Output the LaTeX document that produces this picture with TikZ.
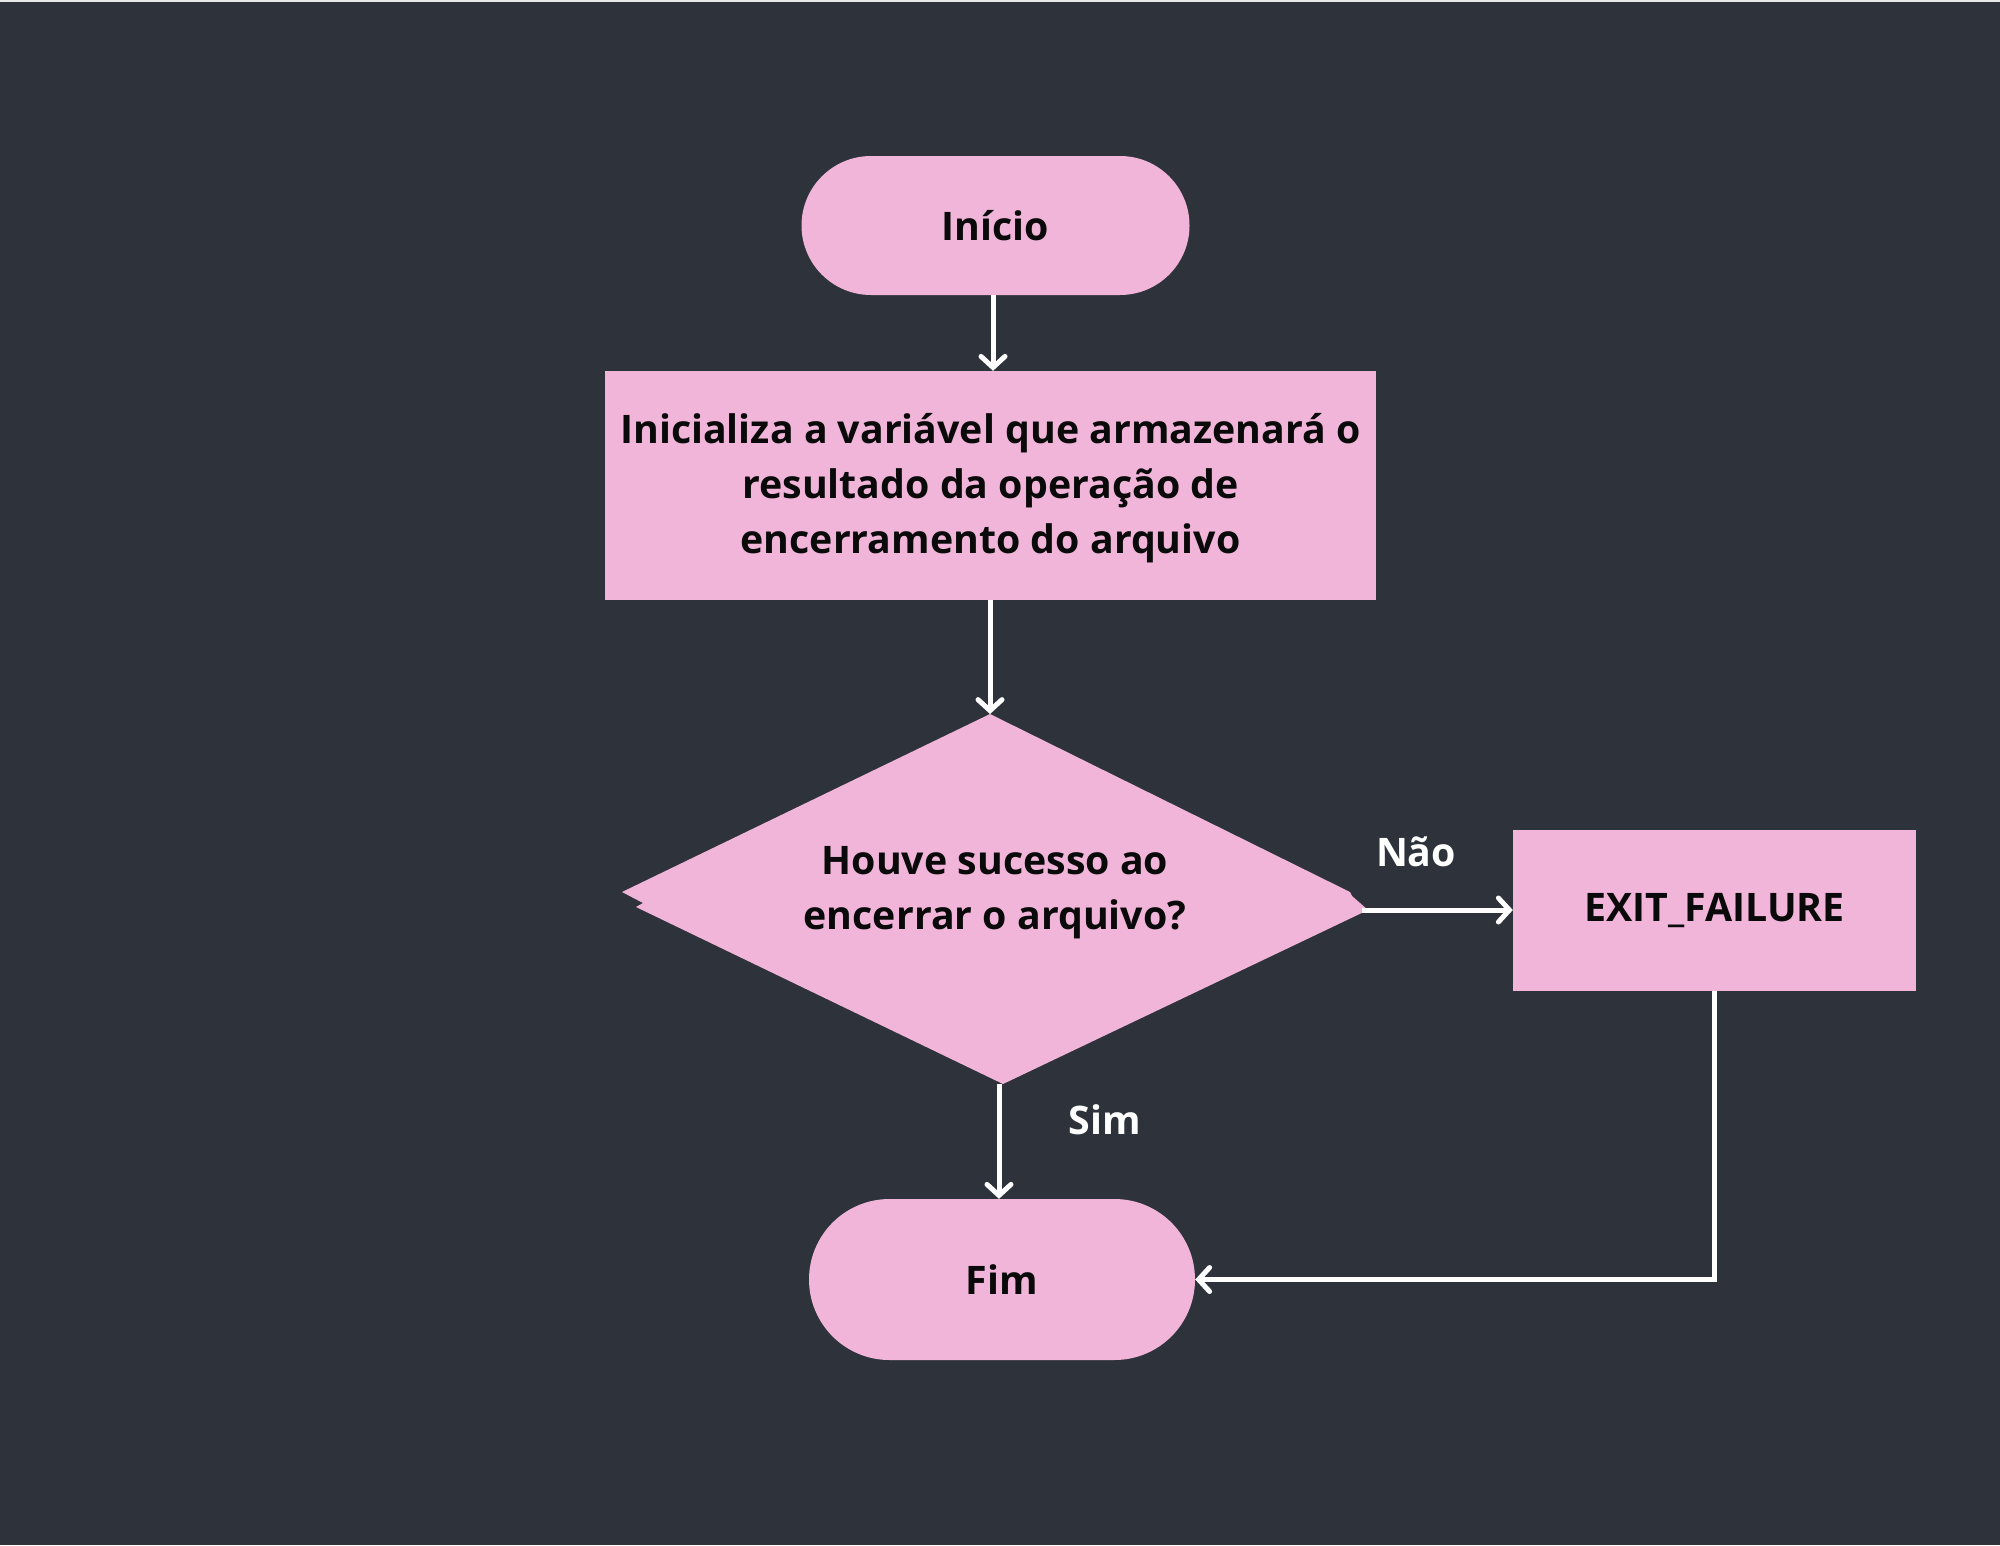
\documentclass[tikz,border=0pt]{standalone}
\usepackage{fontspec}
\setmainfont{Open Sans}[BoldFont={* Bold}]
\usetikzlibrary{arrows.meta,shapes.misc}
\definecolor{bg}{HTML}{2E323B}
\definecolor{pinkfill}{HTML}{F0B5D9}
\definecolor{txt}{HTML}{0A0A0A}
\tikzset{
  txtfont/.style={font=\fontsize{39.3}{55}\selectfont\bfseries},
  term/.style={rounded rectangle, fill=pinkfill, draw=none, txtfont, text=txt, inner sep=0pt},
  procbox/.style={rectangle, fill=pinkfill, draw=none, txtfont, text=txt, align=center, inner sep=0pt},
  lbl/.style={txtfont, text=white, inner sep=0pt},
  conn/.style={draw=white, line width=5pt, -{Straight Barb[length=11pt,width=24pt,line width=5pt,line cap=round]}},
}
\begin{document}
\begin{tikzpicture}[x=1pt,y=-1pt]
\useasboundingbox (0,0) rectangle (2000,1545);
\fill[bg] (0,0) rectangle (2000,1545);
\fill[white!88!bg] (0,0) rectangle (2000,2);

% nodes
\node[term, minimum width=388pt, minimum height=139pt] (ini) at (995.5,225.5) {Início};
\node[procbox, minimum width=771pt, minimum height=229pt] (proc) at (990.5,485.5) {};
\node[txtfont, text=txt, align=center, inner sep=0pt] (proctext) at (990.5,488)
  {Inicializa a variável que armazenará o\\resultado da operação de\\encerramento do arquivo};
% decision diamond
\fill[pinkfill] (990,714) -- (1350,892) -- (1352,896) -- (1368,910) -- (1003,1084) -- (636,907) -- (643,903) -- (622,892) -- cycle;
\coordinate (dtop) at (990,714);
\coordinate (dright) at (1362,910);
\coordinate (dbot) at (999,1084);
\node[txtfont, text=txt, align=center, inner sep=0pt] (dec) at (995,893) {Houve sucesso ao\\encerrar o arquivo?};
\node[procbox, minimum width=403pt, minimum height=161pt] (exitf) at (1714.5,910.5) {EXIT\_FAILURE};
\node[term, minimum width=386pt, minimum height=161pt] (fim) at (1002,1279.5) {Fim};

% labels
\node[lbl] (nao) at (1416,852) {Não};
\node[lbl] (sim) at (1105,1120) {Sim};

% connectors
\draw[conn] (ini.south -| 993,0) -- (proc.north -| 993,0);
\draw[conn] (proc.south -| dtop) -- (dtop);
\draw[conn] (dbot) -- (fim.north -| dbot);
\draw[conn] (dright) -- (exitf.west |- dright);
\draw[conn] (exitf.south) -- (exitf.south |- fim.east) -- (fim.east);
\end{tikzpicture}
\end{document}
